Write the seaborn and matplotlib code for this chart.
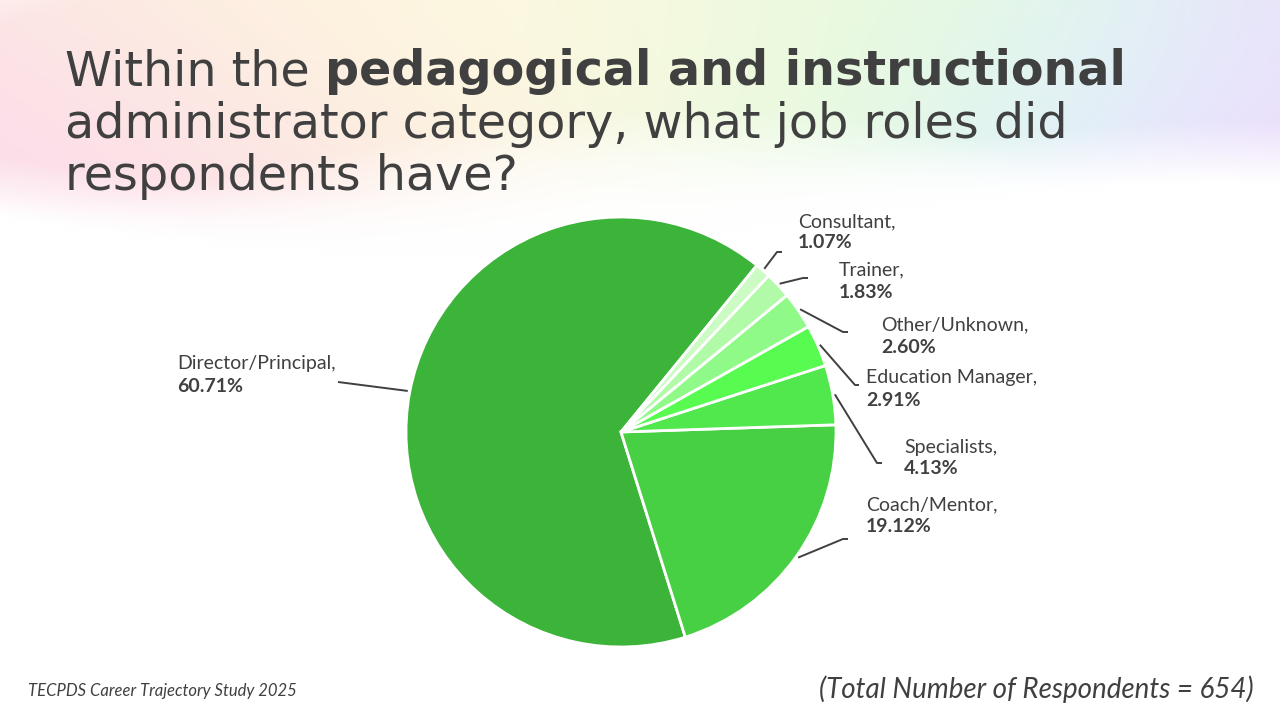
import numpy as np
import matplotlib
matplotlib.use("Agg")
import matplotlib.pyplot as plt
import seaborn as sns

sns.set_theme(style="white")
plt.rcParams['font.family'] = ['Lato', 'DejaVu Sans']

# ---------------- data ----------------
roles = ["Director/Principal", "Coach/Mentor", "Specialists", "Education Manager",
         "Other/Unknown", "Trainer", "Consultant"]
shares = [60.71, 19.12, 4.13, 2.91, 2.60, 1.83, 1.07]
colors = ["#3CB43A", "#48D044", "#50E84C", "#58FC50", "#90FA88", "#B0FAA8", "#CCFCC4"]

title_regular = "Within the "
title_bold = "pedagogical and instructional"
title_line2 = "administrator category, what job roles did"
title_line3 = "respondents have?"
source_note = "TECPDS Career Trajectory Study 2025"
total_note = "(Total Number of Respondents = 654)"

# label layout (pixel positions): text x, name y, pct y, elbow point, end point
label_layout = {
    "Director/Principal": dict(tx=177, y1=364, y2=386, elbow=(338, 382), end=(338, 382)),
    "Coach/Mentor":       dict(tx=866, y1=505, y2=527, elbow=(843, 539), end=(848, 539)),
    "Specialists":        dict(tx=904, y1=447, y2=469, elbow=(877, 463), end=(882, 463)),
    "Education Manager":  dict(tx=866, y1=378, y2=400, elbow=(855, 385), end=(859, 385)),
    "Other/Unknown":      dict(tx=881, y1=325, y2=347, elbow=(843, 332), end=(848, 332)),
    "Trainer":            dict(tx=839, y1=270, y2=292, elbow=(803, 278), end=(808, 278)),
    "Consultant":         dict(tx=798, y1=222, y2=242, elbow=(777, 252), end=(782, 252)),
}

W, H = 1280, 720
fig = plt.figure(figsize=(12.8, 7.2), dpi=100)
fig.patch.set_facecolor("white")

# ---------------- pastel background ----------------
bg = fig.add_axes([0, 0, 1, 1], zorder=-10)
yy, xx = np.mgrid[0:H:4, 0:W:4].astype(float)
blobs = [
    (0, 130, 260, 110, (0.99, 0.86, 0.92)),
    (250, 60, 260, 110, (0.99, 0.93, 0.88)),
    (520, 20, 260, 100, (1.00, 0.98, 0.88)),
    (850, 30, 260, 110, (0.90, 0.98, 0.87)),
    (1130, 80, 200, 110, (0.87, 0.95, 0.99)),
    (1280, 140, 160, 150, (0.95, 0.84, 0.99)),
]
num = np.zeros(xx.shape + (3,))
den = np.zeros(xx.shape)
for cx, cy, sx, sy, c in blobs:
    w = np.exp(-((xx - cx) / sx) ** 2 - ((yy - cy) / sy) ** 2)
    num += w[..., None] * np.array(c)
    den += w
col = num / np.maximum(den, 1e-9)[..., None]
alpha = np.clip(den * 1.3, 0, 1)
edge = 175 + 35 * np.sin(xx / 260.0)
fade = np.clip((edge + 40 - yy) / 60.0, 0, 1)
alpha = alpha * fade
img = np.ones_like(col) * (1 - alpha[..., None]) + col * alpha[..., None]
bg.imshow(img, extent=[0, W, H, 0], aspect="auto", interpolation="bilinear")
bg.set_xlim(0, W)
bg.set_ylim(H, 0)
bg.axis("off")

# ---------------- pie ----------------
cx_px, cy_px, r_px = 621, 432, 215
ax = fig.add_axes([(cx_px - r_px) / W, (H - cy_px - r_px) / H, 2 * r_px / W, 2 * r_px / H])
wedges, _ = ax.pie(shares, colors=colors, startangle=50.8, counterclock=True,
                   radius=1.0, wedgeprops=dict(edgecolor="white", linewidth=2))
ax.set_xlim(-1, 1)
ax.set_ylim(-1, 1)
ax.set_aspect("equal")
ax.axis("off")


def px2d(p):
    return ((p[0] - cx_px) / r_px, (cy_px - p[1]) / r_px)


text_color = "#404040"
for wdg, role, val in zip(wedges, roles, shares):
    lay = label_layout[role]
    mid = np.deg2rad((wdg.theta1 + wdg.theta2) / 2)
    start = (1.01 * np.cos(mid), 1.01 * np.sin(mid))
    e = px2d(lay["elbow"])
    en = px2d(lay["end"])
    ax.plot([start[0], e[0], en[0]], [start[1], e[1], en[1]], color="#404040",
            lw=1.4, clip_on=False, solid_capstyle="butt")
    fig.text(lay["tx"] / W, 1 - lay["y1"] / H, role + ",", ha="left", va="center",
             fontsize=14, color=text_color)
    fig.text(lay["tx"] / W, 1 - lay["y2"] / H, f"{val:.2f}%", ha="left", va="center",
             fontsize=14, color=text_color, fontweight="bold")

# ---------------- title ----------------
tfam = ["DejaVu Sans"]
renderer = fig.canvas.get_renderer()
probe = fig.text(0, 0, title_line2, fontsize=34, family=tfam)
pw = probe.get_window_extent(renderer=renderer).width
probe.remove()
tfs = 34 * 1003.0 / pw

t1 = fig.text(65 / W, 1 - 85 / H, title_regular, ha="left", va="baseline",
              fontsize=tfs, color=text_color, family=tfam)
bb = t1.get_window_extent(renderer=renderer)
fig.text(bb.x1 / W, 1 - 85 / H, title_bold, ha="left", va="baseline",
         fontsize=tfs, color=text_color, fontweight="bold", family=tfam)
fig.text(65 / W, 1 - 138 / H, title_line2, ha="left", va="baseline",
         fontsize=tfs, color=text_color, family=tfam)
fig.text(65 / W, 1 - 190 / H, title_line3, ha="left", va="baseline",
         fontsize=tfs, color=text_color, family=tfam)

# ---------------- footer ----------------
fig.text(28 / W, 1 - 691 / H, source_note, ha="left", va="center", fontsize=12,
         color=text_color, style="italic")
fig.text(1254 / W, 1 - 689 / H, total_note, ha="right", va="center", fontsize=20,
         color=text_color, style="italic")

fig.savefig("out.png", dpi=100)
